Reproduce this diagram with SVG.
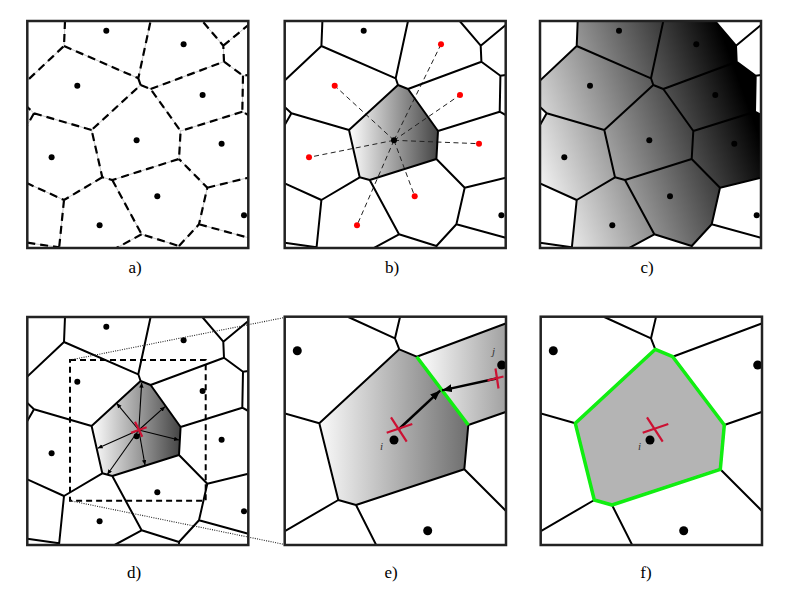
<svg xmlns="http://www.w3.org/2000/svg" xmlns:xlink="http://www.w3.org/1999/xlink" width="789" height="601" viewBox="0 0 789 601">
<style>
.frame{fill:none;stroke:#222;stroke-width:2.5}
.edge{fill:none;stroke:#000;stroke-width:2;stroke-linejoin:round}
.thin{fill:none;stroke:#c4c4c4;stroke-width:1}
.dash{fill:none;stroke:#000;stroke-width:2.2;stroke-dasharray:8 5}
.link{fill:none;stroke:#222;stroke-width:1;stroke-dasharray:5 3.5}
.dot{fill:none;stroke:#222;stroke-width:1.1;stroke-dasharray:1 1.3}
.rect{fill:none;stroke:#000;stroke-width:2;stroke-dasharray:6 4}
.lbl{font-family:"Liberation Serif","Times New Roman",serif;font-size:17px;fill:#000;text-anchor:middle}
.it{font-family:"Liberation Serif","Times New Roman",serif;font-style:italic;font-size:11px;fill:#333}
.cross{stroke:#cc1133;stroke-width:2.2;fill:none}
.arrD{stroke:#000;stroke-width:1.1;fill:none;marker-end:url(#mD)}
.arrE{stroke:#000;stroke-width:2.5;fill:none;marker-end:url(#mE)}
.green{stroke:#11ee11;stroke-width:3.5;fill:none}
.k{fill:#000}
.r{fill:#ff0000}
</style>
<defs>
<linearGradient id="gB" x1="0" y1="0" x2="1" y2="0"><stop offset="0" stop-color="#fff"/><stop offset="1" stop-color="#444"/></linearGradient>
<linearGradient id="gC" gradientUnits="userSpaceOnUse" x1="0" y1="200" x2="221" y2="120"><stop offset="0" stop-color="#fff"/><stop offset="1" stop-color="#000"/></linearGradient>
<linearGradient id="gE" x1="0" y1="0" x2="1" y2="0"><stop offset="0" stop-color="#fafafa"/><stop offset="1" stop-color="#6e6e6e"/></linearGradient>
<linearGradient id="gJ" x1="0" y1="0" x2="1" y2="0"><stop offset="0" stop-color="#fff"/><stop offset="1" stop-color="#a0a0a0"/></linearGradient>
<marker id="mD" markerUnits="userSpaceOnUse" markerWidth="6" markerHeight="5" refX="5" refY="2.2" orient="auto"><path d="M0,0 L5,2.2 L0,4.4 Z" fill="#000"/></marker>
<marker id="mE" markerUnits="userSpaceOnUse" markerWidth="11" markerHeight="9" refX="10" refY="4" orient="auto"><path d="M0,0 L10,4 L0,8 Z" fill="#000"/></marker>
<clipPath id="clipT"><rect x="0" y="0" width="221" height="227"/></clipPath>
<clipPath id="clipB"><rect x="0" y="0" width="221" height="228"/></clipPath>
<clipPath id="clipE"><rect x="284.7" y="316.7" width="221.3" height="228.3"/></clipPath>
<path id="edges" d="M37.7,0 L36.7,25 L0,59.5 M36.7,25 L111,57.3 L123.3,0 M111,57.3 L113.3,64 M123.3,68 L196.7,40.7 L196,24.7 L175,0 M196,24.7 L221,4 M196.7,40.7 L215.7,54.7 L221,54 M215.7,54.7 L215,90.7 L221,94 M215,90.7 L153.3,110 M113.3,64 L123.3,68 L153.3,110 L151.7,138 L85,159 L75,156.3 L64.3,109 Z M64.3,109 L6.7,92.3 L0,86 M6.7,92.3 L0,104 M75,156.3 L36.7,179 L0,162.3 M36.7,179 L31.7,228 M85,159 L114.3,213.3 L151.7,225 L151.7,228 M114.3,213.3 L87.3,228 M151.7,225 L171.7,203.3 L180,166.7 L151.7,138 M180,166.7 L221,156.7 M171.7,203.3 L221,216.7 M0,221.7 L31.7,226.3"/>
<polygon id="cell0" points="113.3,64 123.3,68 153.3,110 151.7,138 85,159 75,156.3 64.3,109"/>
<g id="seedsK" fill="#000">
<circle cx="79" cy="9.7" r="3"/><circle cx="156.3" cy="23.3" r="3"/><circle cx="50" cy="64.7" r="3"/><circle cx="175.3" cy="74" r="3"/><circle cx="109.3" cy="119.3" r="3"/><circle cx="24.3" cy="136.3" r="3"/><circle cx="194.3" cy="122.7" r="3"/><circle cx="130" cy="175.3" r="3"/><circle cx="72.3" cy="204.3" r="3"/><circle cx="216.7" cy="194.3" r="3"/>
</g>
<path id="edgesE" d="M348.3,317 L395,338.3 L400,317 M395,338.3 L399.3,349.3 M416.7,356.7 L507,323 M468.3,425 L507,411.5 M464.3,469.3 L507,512 M356,505 L376.7,546 M338.3,500 L284,531.7 M319.3,423.3 L284,413.3 M399.3,349.3 L416.7,356.7 L468.3,425 L464.3,469.3 L356,505 L338.3,500 L319.3,423.3 Z"/>
<g id="seedsE" fill="#000"><circle cx="297.3" cy="350.7" r="4.5"/><circle cx="394" cy="440" r="4.5"/><circle cx="501.7" cy="365" r="4.5"/><circle cx="427.7" cy="530.7" r="4.5"/></g>
</defs>

<g id="panel-a" transform="translate(27.3,21)">
<g clip-path="url(#clipT)">
<use xlink:href="#edges" class="thin"/>
<use xlink:href="#edges" class="dash"/>
<use xlink:href="#seedsK"/>
</g>
<rect class="frame" x="0" y="0" width="221" height="227"/>
</g>

<g id="panel-b" transform="translate(284.7,21)">
<g clip-path="url(#clipT)">
<use xlink:href="#cell0" fill="url(#gB)"/>
<g id="links">
<path class="link" d="M109.3,119.3 L156.3,23.3 M109.3,119.3 L50,64.7 M109.3,119.3 L175.3,74 M109.3,119.3 L24.3,136.3 M109.3,119.3 L194.3,122.7 M109.3,119.3 L130,175.3 M109.3,119.3 L72.3,204.3"/>
</g>
<use xlink:href="#edges" class="edge"/>
<circle class="k" cx="79" cy="9.7" r="3"/><circle class="r" cx="156.3" cy="23.3" r="3"/><circle class="r" cx="50" cy="64.7" r="3"/><circle class="r" cx="175.3" cy="74" r="3"/><circle class="k" cx="109.3" cy="119.3" r="3"/><circle class="r" cx="24.3" cy="136.3" r="3"/><circle class="r" cx="194.3" cy="122.7" r="3"/><circle class="r" cx="130" cy="175.3" r="3"/><circle class="r" cx="72.3" cy="204.3" r="3"/><circle class="k" cx="216.7" cy="194.3" r="3"/>
</g>
<rect class="frame" x="0" y="0" width="221" height="227"/>
</g>

<g id="panel-c" transform="translate(540,21)">
<g clip-path="url(#clipT)">
<g fill="url(#gC)">
<polygon points="37.7,0 123.3,0 111,57.3 36.7,25"/>
<polygon points="123.3,0 175,0 196,24.7 196.7,40.7 123.3,68 113.3,64 111,57.3"/>
<polygon points="36.7,25 111,57.3 113.3,64 64.3,109 6.7,92.3 0,86 0,59.5"/>
<polygon points="123.3,68 196.7,40.7 215.7,54.7 215,90.7 153.3,110"/>
<polygon points="113.3,64 123.3,68 153.3,110 151.7,138 85,159 75,156.3 64.3,109"/>
<polygon points="6.7,92.3 64.3,109 75,156.3 36.7,179 0,162.3 0,104"/>
<polygon points="153.3,110 215,90.7 221,94 221,156.7 180,166.7 151.7,138"/>
<polygon points="151.7,138 180,166.7 171.7,203.3 151.7,225 114.3,213.3 85,159"/>
<polygon points="75,156.3 85,159 114.3,213.3 87.3,228 31.7,228 36.7,179"/>
</g>
<use xlink:href="#edges" class="edge"/>
<use xlink:href="#seedsK"/>
</g>
<rect class="frame" x="0" y="0" width="221" height="227"/>
</g>

<g id="panel-d" transform="translate(27.3,317)">
<g clip-path="url(#clipB)">
<use xlink:href="#cell0" fill="url(#gB)"/>
<use xlink:href="#edges" class="edge"/>
<use xlink:href="#seedsK"/>
<g id="d-arrows">
<path class="arrD" d="M111.5,113 L114.4,65.7"/>
<path class="arrD" d="M111.5,113 L89.4,86.3"/>
<path class="arrD" d="M111.5,113 L137.7,89.7"/>
<path class="arrD" d="M111.5,113 L151.7,123"/>
<path class="arrD" d="M111.5,113 L117.7,148"/>
<path class="arrD" d="M111.5,113 L80,157.5"/>
<path class="arrD" d="M111.5,113 L70.4,131.3"/>
</g>
<path class="cross" stroke-width="1.8" d="M107.7,104.7 L115,119.7 M103.7,115.7 L119.4,110.3"/>
<rect class="rect" x="42.7" y="43" width="135.7" height="140.7"/>
</g>
<rect class="frame" x="0" y="0" width="221" height="228"/>
</g>

<g id="zoom-lines">
<path class="dot" d="M70,360 L284.7,317.5 M70,500.7 L284.7,544.5"/>
</g>

<g id="panel-e">
<g clip-path="url(#clipE)">
<polygon points="399.3,349.3 416.7,356.7 468.3,425 464.3,469.3 356,505 338.3,500 319.3,423.3" fill="url(#gE)"/>
<polygon points="416.7,356.7 507,323 507,411.5 468.3,425" fill="url(#gJ)"/>
<use xlink:href="#edgesE" class="edge"/>
<path class="green" d="M416.7,356.7 L468.3,425"/>
<use xlink:href="#seedsE"/>
<path class="arrE" d="M399,429 L440.2,390.6"/>
<path class="arrE" d="M496.5,378.5 L442,390.4"/>
<path class="cross" d="M386.7,432.7 L412.3,424 M391,417.3 L406.7,441.7"/>
<path class="cross" d="M487.5,380.5 L503.5,376.5 M495.5,368.5 L498.5,388.5"/>
<text class="it" x="380" y="449.5">i</text>
<text class="it" x="492" y="355">j</text>
</g>
<rect class="frame" x="284.7" y="316.7" width="221.3" height="228.3"/>
</g>

<g id="panel-f" transform="translate(256,0)">
<g clip-path="url(#clipE)">
<polygon points="399.3,349.3 416.7,356.7 468.3,425 464.3,469.3 356,505 338.3,500 319.3,423.3" fill="#b4b4b4"/>
<use xlink:href="#edgesE" class="edge"/>
<polygon points="399.3,349.3 416.7,356.7 468.3,425 464.3,469.3 356,505 338.3,500 319.3,423.3" class="green" stroke-width="4" stroke-linejoin="round"/>
<use xlink:href="#seedsE"/>
<path class="cross" d="M386.7,432.7 L412.3,424 M391,417.3 L406.7,441.7"/>
<text class="it" x="382" y="449.5">i</text>
</g>
<rect class="frame" x="284.7" y="316.7" width="221.3" height="228.3"/>
</g>

<g id="labels">
<text class="lbl" x="135" y="273">a)</text>
<text class="lbl" x="392" y="273">b)</text>
<text class="lbl" x="647" y="273">c)</text>
<text class="lbl" x="134" y="578">d)</text>
<text class="lbl" x="391" y="578">e)</text>
<text class="lbl" x="646" y="578">f)</text>
</g>
</svg>
